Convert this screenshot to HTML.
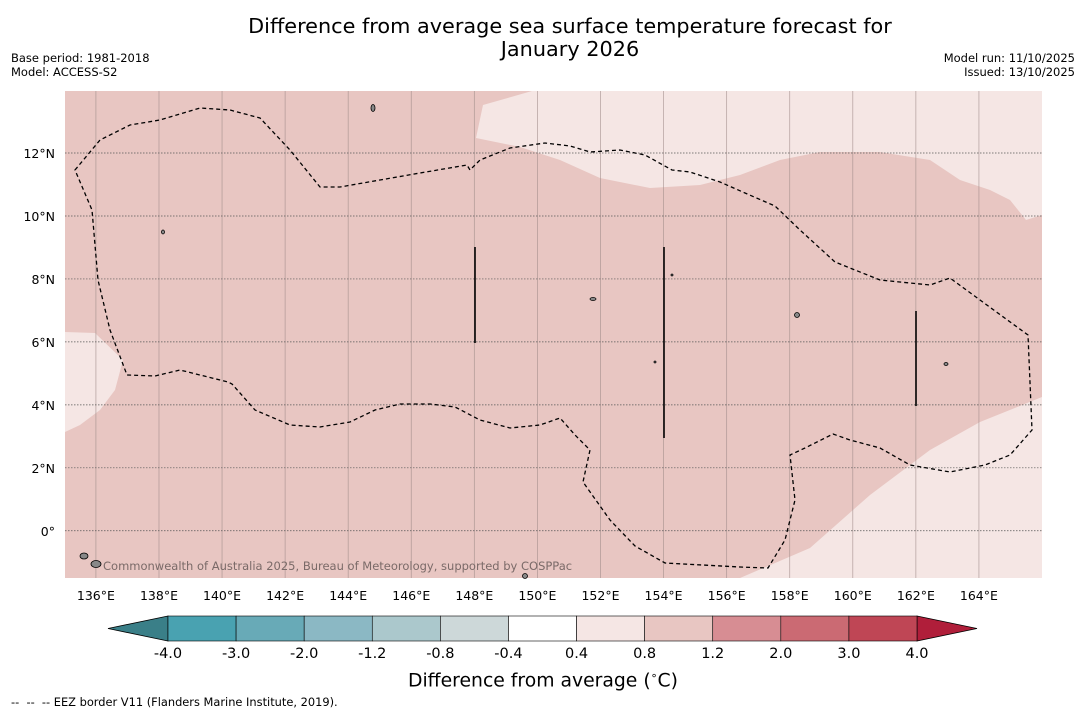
<!DOCTYPE html>
<html><head><meta charset="utf-8"><style>
body{margin:0;background:#fff;font-family:"DejaVu Sans",sans-serif;}
#wrap{position:relative;width:1085px;height:713px;overflow:hidden;}
.t{position:absolute;font-size:11.5px;color:#000;white-space:nowrap}
</style></head><body>
<div id="wrap">
<div class="t" style="left:0;width:1140px;top:15px;text-align:center;font-size:20.8px;line-height:23px">Difference from average sea surface temperature forecast for<br>January 2026</div>
<div class="t" style="left:11px;top:51px">Base period: 1981-2018</div>
<div class="t" style="left:11px;top:65px">Model: ACCESS-S2</div>
<div class="t" style="right:10px;top:51px;text-align:right">Model run: 11/10/2025</div>
<div class="t" style="right:10px;top:65px;text-align:right">Issued: 13/10/2025</div>
<svg id="svg" width="1085" height="713" style="position:absolute;left:0;top:0"></svg>
<div class="t" style="left:408px;top:669px;font-size:18.8px">Difference from average (<sup style="font-size:11px">∘</sup>C)</div>
<div class="t" style="left:11px;top:695px;font-size:11.4px">--&nbsp; --&nbsp; -- EEZ border V11 (Flanders Marine Institute, 2019).</div>
</div>
<script>
const lonTicks=[136,138,140,142,144,146,148,150,152,154,156,158,160,162,164];
const latTicks=[0,2,4,6,8,10,12];
const cbLevels=["-4.0","-3.0","-2.0","-1.2","-0.8","-0.4","0.4","0.8","1.2","2.0","3.0","4.0"];
const cbColors=["#49a2b1","#68aab7","#8bb8c4","#abc8cc","#cdd8d9","#ffffff","#f5e6e4","#e8c6c2","#d78d93","#cb6a73","#bf4655"];
const X0=65,X1=1042,Y0=91,Y1=578;
const lonMin=135.02,lonMax=166.0,latMin=-1.5,latMax=13.97;
const xs=l=>X0+(l-lonMin)/(lonMax-lonMin)*(X1-X0);
const ys=l=>Y1-(l-latMin)/(latMax-latMin)*(Y1-Y0);
const svg=document.getElementById('svg');const NS='http://www.w3.org/2000/svg';
const FF='DejaVu Sans, sans-serif';
function mk(t,a,p){const e=document.createElementNS(NS,t);for(const k in a)e.setAttribute(k,a[k]);(p||svg).appendChild(e);return e;}
let e;
e=mk('rect',{x:X0,y:Y0,width:X1-X0,height:Y1-Y0,fill:'#e8c6c2'});


const light='#f5e6e4';
e=mk('path',{d:'M483,105 L532,91 L1042,91 L1042,215 L1026,220 L1010,200 L990,190 L960,180 L930,160 L880,152 L820,152 L780,160 L740,175 L700,185 L650,188 L600,178 L560,160 L520,147 L476,138 Z',fill:light});


e=mk('path',{d:'M65,332 L95,333 L123,360 L115,390 L100,410 L80,425 L65,432 Z',fill:light});


e=mk('path',{d:'M740,578 L810,548 L870,495 L930,450 L980,422 L1042,397 L1042,578 Z',fill:light});


lonTicks.forEach(l=>{const x=xs(l);
 e=mk('line',{x1:x,x2:x,y1:Y0,y2:Y1,stroke:'#a08c8a','stroke-width':0.8,opacity:0.7});
 
 
 e=mk('text',{x:x,y:600,'text-anchor':'middle','font-size':12.5,'font-family':FF});e.textContent=l+'°E';
 
 });
latTicks.forEach(l=>{const y=ys(l);
 e=mk('line',{x1:X0,x2:X1,y1:y,y2:y,stroke:'#555','stroke-width':0.7,'stroke-dasharray':'1.5,1.5'});
 
 
 e=mk('text',{x:55,y:y+5,'text-anchor':'end','font-size':12.5,'font-family':FF});e.textContent=l===0?'0°':l+'°N';
 
 });
e=mk('path',{d:'M75,170 L100,140 L130,125 L160,120 L200,108 L230,110 L260,118 L290,150 L320,187 L340,187 L380,180 L420,173 L467,165 L470,170 L480,160 L510,148 L545,143 L570,146 L590,152 L620,150 L645,155 L672,170 L690,172 L720,182 L745,193 L775,206 L800,230 L835,262 L880,280 L930,285 L950,278 L980,300 L1028,335 L1032,430 L1010,455 L985,465 L950,472 L910,465 L880,448 L850,440 L833,434 L805,448 L790,455 L795,500 L785,540 L768,568 L740,567 L665,563 L635,546 L610,520 L583,482 L590,450 L575,435 L560,418 L540,425 L510,428 L480,420 L455,407 L430,404 L400,404 L375,410 L350,422 L320,427 L290,425 L255,410 L232,384 L228,382 L180,370 L155,376 L127,375 L110,330 L98,280 L92,210 Z',fill:'none',stroke:'#000','stroke-width':1.3,'stroke-dasharray':'4,3'});


[[475,247,343],[664,247,438],[916,311,406]].forEach(v=>{e=mk('line',{x1:v[0],x2:v[0],y1:v[1],y2:v[2],stroke:'#000','stroke-width':1.6});
 
 });
[[373,108,2,3.5],[163,232,1.5,2],[593,299,3,1.5],[797,315,2.5,2.5],[946,364,2,1.5],[84,556,4,3],[96,564,5,3.5],[525,576,2.5,2.5],[672,275,1,1],[655,362,1,1]].forEach(p=>{e=mk('ellipse',{cx:p[0],cy:p[1],rx:p[2],ry:p[3],fill:'#888',stroke:'#000','stroke-width':0.8});
 
 });
e=mk('text',{x:103,y:570,'font-size':11.5,fill:'#7a6a68','font-family':FF});e.textContent='Commonwealth of Australia 2025, Bureau of Meteorology, supported by COSPPac';


const cx0=168,cx1=917,cy0=616,cy1=641,bw=(cx1-cx0)/cbColors.length;
e=mk('path',{d:`M${cx0},${cy0} L108,${(cy0+cy1)/2} L${cx0},${cy1} Z`,fill:'#3a7f88',stroke:'#000','stroke-width':0.8});


e=mk('path',{d:`M${cx1},${cy0} L977,${(cy0+cy1)/2} L${cx1},${cy1} Z`,fill:'#b01e3a',stroke:'#000','stroke-width':0.8});


cbColors.forEach((c,i)=>{e=mk('rect',{x:cx0+i*bw,y:cy0,width:bw,height:cy1-cy0,fill:c,stroke:'#000','stroke-width':0.6});
 
 });
cbLevels.forEach((l,i)=>{e=mk('text',{x:cx0+i*bw,y:658,'text-anchor':'middle','font-size':14.5,'font-family':FF});e.textContent=l;
 
 });
</script>
</body></html>
